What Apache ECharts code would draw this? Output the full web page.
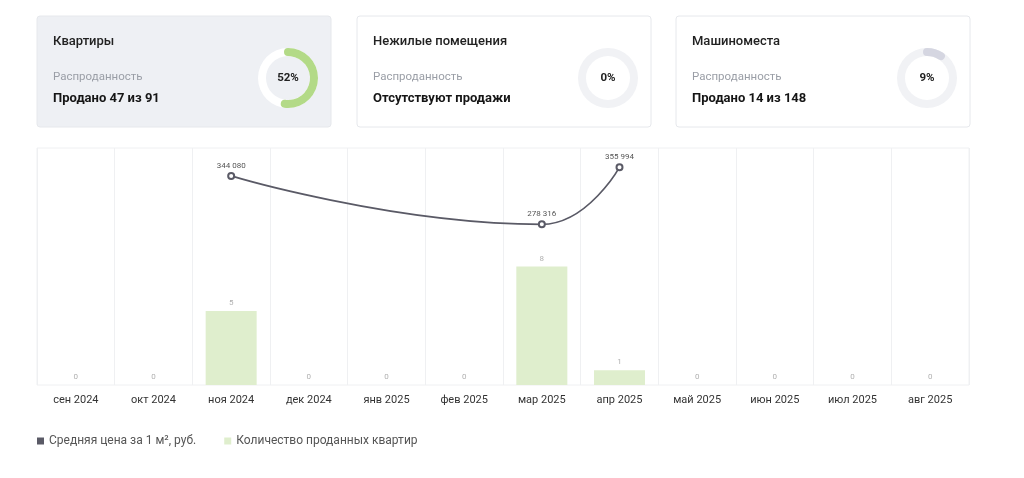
<!DOCTYPE html>
<html lang="ru">
<head>
    <meta charset="UTF-8">
    <title>Продажи</title>
    <script src="https://cdn.jsdelivr.net/npm/echarts@6.0.0/dist/echarts.min.js"></script>
    <style>
        html, body { margin: 0; padding: 0; background: #fff; }
    </style>
</head>
<body>
<div id="main" style="width:1024px;height:478px;"></div>
<script>
    const months = ['сен 2024', 'окт 2024', 'ноя 2024', 'дек 2024', 'янв 2025', 'фев 2025',
        'мар 2025', 'апр 2025', 'май 2025', 'июн 2025', 'июл 2025', 'авг 2025'];
    const soldCounts = [0, 0, 5, 0, 0, 0, 8, 1, 0, 0, 0, 0];
    const avgPrice = ['-', '-', 344080, '-', '-', '-', 278316, 355994, '-', '-', '-', '-'];

    const cardTitles = ['Квартиры', 'Нежилые помещения', 'Машиноместа'];
    const cardSubtitle = 'Распроданность';
    const cardTotals = ['Продано 47 из 91', 'Отсутствуют продажи', 'Продано 14 из 148'];
    const cardPercents = [52, 0, 9];

    const font = 'Roboto, "Noto Sans", sans-serif';
    const lineColor = '#5a5a66';
    const barColor = '#dfeecd';

    // карточки сверху
    const cardX = [37, 357, 676];
    const cardW = 294;
    const cardFill = ['#eef0f4', '#fff', '#fff'];
    const ringBg = ['#ffffff', '#f1f2f5', '#f1f2f5'];
    const ringColor = ['#b3da87', '#b3da87', '#d5d6e1'];

    const graphic = [];
    cardX.forEach((x, i) => {
        graphic.push({
            type: 'rect',
            shape: {x: x, y: 16, width: cardW, height: 111, r: 3},
            style: {fill: cardFill[i], stroke: '#e6e8ec', lineWidth: 1},
            z: 0
        });
        graphic.push({
            type: 'text', x: x + 16, y: 42,
            style: {text: cardTitles[i], font: '500 13px ' + font, fill: '#222', verticalAlign: 'middle'}
        });
        graphic.push({
            type: 'text', x: x + 16, y: 77,
            style: {text: cardSubtitle, font: '11.5px ' + font, fill: '#9a9ea6', verticalAlign: 'middle'}
        });
        graphic.push({
            type: 'text', x: x + 16, y: 99,
            style: {text: cardTotals[i], font: 'bold 13px ' + font, fill: '#151515', verticalAlign: 'middle'}
        });
    });

    const gauges = cardX.map((x, i) => ({
        type: 'gauge',
        center: [x + 251, 78],
        radius: 30,
        startAngle: 90,
        endAngle: -270,
        min: 0,
        max: 100,
        pointer: {show: false},
        progress: {
            show: cardPercents[i] > 0,
            roundCap: true,
            width: 8,
            itemStyle: {color: ringColor[i]}
        },
        axisLine: {lineStyle: {width: 8, color: [[1, ringBg[i]]]}},
        axisTick: {show: false},
        splitLine: {show: false},
        axisLabel: {show: false},
        title: {show: false},
        detail: {
            offsetCenter: [0, 0],
            formatter: '{value}%',
            fontSize: 11.5,
            fontWeight: 'bold',
            fontFamily: font,
            color: '#222'
        },
        animation: false,
        data: [{value: cardPercents[i]}]
    }));

    const fmt = (v) => String(v).replace(/\B(?=(\d{3})+(?!\d))/g, ' ');

    const myChart = echarts.init(document.getElementById('main'));
    const option = {
        animation: false,
        backgroundColor: '#fff',
        textStyle: {fontFamily: font},
        graphic: graphic,
        grid: {
            left: 37, right: 55, top: 148, bottom: 93,
            show: true, borderColor: '#eff0f2', borderWidth: 1
        },
        legend: {
            left: 32, top: 430,
            icon: 'rect',
            itemWidth: 7, itemHeight: 7,
            itemGap: 28,
            textStyle: {fontSize: 12, color: '#555', fontFamily: font},
            data: [
                {name: 'Средняя цена за 1 м², руб.', itemStyle: {color: lineColor}},
                {name: 'Количество проданных квартир', itemStyle: {color: barColor}}
            ]
        },
        xAxis: {
            type: 'category',
            data: months,
            axisLine: {show: false},
            axisTick: {show: false},
            axisLabel: {color: '#333', fontSize: 11, margin: 10, fontFamily: font},
            splitLine: {show: true, interval: 0, lineStyle: {color: '#eff0f2'}}
        },
        yAxis: [
            {type: 'value', min: 0, max: 16, show: false, splitLine: {show: false}},
            {type: 'value', min: 60000, max: 382000, show: false, splitLine: {show: false}}
        ],
        series: [
            {
                name: 'Количество проданных квартир',
                type: 'bar',
                yAxisIndex: 0,
                data: soldCounts,
                barWidth: 51,
                itemStyle: {color: barColor},
                label: {show: true, position: 'top', fontSize: 8, color: '#b0b0b0', distance: 4}
            },
            ...gauges,
            {
                name: 'Средняя цена за 1 м², руб.',
                type: 'line',
                yAxisIndex: 1,
                data: avgPrice,
                connectNulls: true,
                smooth: true,
                symbol: 'emptyCircle',
                symbolSize: 6,
                lineStyle: {color: lineColor, width: 1.7},
                itemStyle: {color: lineColor, borderWidth: 1.7},
                label: {
                    show: true, position: 'top', fontSize: 8, color: '#555', distance: 2,
                    formatter: (p) => fmt(p.value)
                },
                z: 5
            }
        ]
    };
    myChart.setOption(option);
</script>
</body>
</html>
